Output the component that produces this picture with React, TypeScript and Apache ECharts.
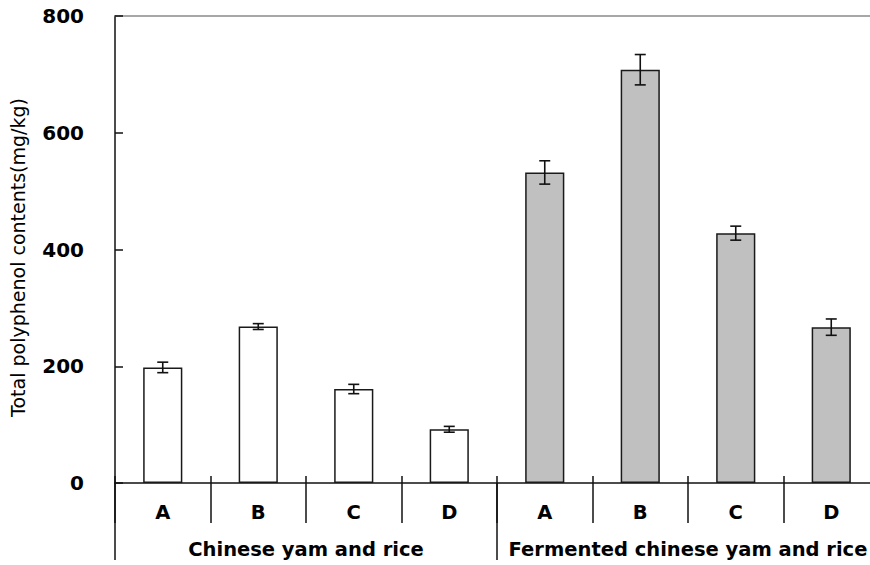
import React, { useEffect, useRef } from "react";
import * as echarts from "echarts";

const categories = ["A", "B", "C", "D", "A", "B", "C", "D"];
const groups = ["Chinese yam and rice", "Fermented chinese yam and rice"];
const means = [198, 268, 161, 92, 532, 708, 428, 267];
const errors = [9, 5, 8, 5, 20, 26, 12, 14];
const yMin = 0;
const yMax = 800;
const yStep = 200;
const yTitle = "Total polyphenol contents(mg/kg)";

export default function App() {
  const ref = useRef<HTMLDivElement>(null);
  useEffect(() => {
    if (!ref.current) return;
    const chart = echarts.init(ref.current, null, { renderer: "svg" });
    const bold = { fontFamily: "DejaVu Sans", fontWeight: "bold" as const, color: "#000" };
    const lineStyle = { color: "#111", width: 1.5 };
    chart.setOption({
      animation: false,
      backgroundColor: "#fff",
      grid: { left: 115, right: 0, top: 16, bottom: 82, containLabel: false },
      xAxis: [
        {
          type: "category",
          position: "bottom",
          data: categories,
          boundaryGap: true,
          axisLine: { show: true, onZero: false, lineStyle },
          axisTick: { show: true, inside: false, length: 40, interval: 0, lineStyle },
          axisLabel: { ...bold, fontSize: 19.5, margin: 19, interval: 0 },
          splitLine: { show: false },
        },
        {
          type: "category",
          position: "bottom",
          data: groups,
          boundaryGap: true,
          axisLine: { show: false, onZero: false },
          axisTick: { show: true, inside: false, length: 77, interval: 0, lineStyle },
          axisLabel: { ...bold, fontSize: 19.5, margin: 56, interval: 0 },
          splitLine: { show: false },
        },
        {
          type: "category",
          position: "bottom",
          data: categories,
          boundaryGap: true,
          axisLine: { show: false, onZero: false },
          axisTick: { show: true, inside: true, length: 7, interval: 0, lineStyle },
          axisLabel: { show: false },
          splitLine: { show: false },
        },
        {
          type: "category",
          position: "top",
          data: categories,
          boundaryGap: true,
          axisLine: { show: true, onZero: false, lineStyle: { color: "#8a8a8a", width: 1.5 } },
          axisTick: { show: false },
          axisLabel: { show: false },
          splitLine: { show: false },
        },
      ],
      yAxis: {
        type: "value",
        min: yMin,
        max: yMax,
        interval: yStep,
        name: yTitle,
        nameLocation: "middle",
        nameGap: 88,
        nameRotate: 90,
        nameTextStyle: {
          fontFamily: "DejaVu Sans",
          fontSize: 19,
          color: "#000",
          padding: [0, 16, 0, 0],
        },
        axisLine: { show: true, lineStyle },
        axisTick: { show: true, inside: true, length: 8, lineStyle },
        axisLabel: { ...bold, fontSize: 20, margin: 31 },
        splitLine: { show: false },
      },
      series: [
        {
          type: "bar",
          xAxisIndex: 0,
          barWidth: "41%",
          data: means.map((v, i) => ({
            value: v,
            itemStyle: {
              color: i < 4 ? "#ffffff" : "#c0c0c0",
              borderColor: "#1a1a1a",
              borderWidth: 1.5,
            },
          })),
        },
        {
          type: "custom",
          xAxisIndex: 0,
          z: 5,
          encode: { x: 0, y: 1 },
          data: means.map((m, i) => [i, m, errors[i]]),
          renderItem: (params: any, api: any) => {
            const i = api.value(0);
            const m = api.value(1);
            const e = api.value(2);
            const top = api.coord([i, m + e]);
            const bot = api.coord([i, m - e]);
            const half = 5.5;
            const st = { stroke: "#111", lineWidth: 1.6 };
            return {
              type: "group",
              children: [
                { type: "line", shape: { x1: top[0], y1: top[1], x2: bot[0], y2: bot[1] }, style: st },
                { type: "line", shape: { x1: top[0] - half, y1: top[1], x2: top[0] + half, y2: top[1] }, style: st },
                { type: "line", shape: { x1: bot[0] - half, y1: bot[1], x2: bot[0] + half, y2: bot[1] }, style: st },
              ],
            };
          },
        },
      ],
    });
    return () => chart.dispose();
  }, []);
  return (
    <div
      style={{
        position: "absolute",
        left: 0,
        top: 0,
        width: 870,
        height: 565,
        overflow: "hidden",
        background: "#fff",
      }}
    >
      <div ref={ref} style={{ width: 879, height: 565 }} />
    </div>
  );
}
